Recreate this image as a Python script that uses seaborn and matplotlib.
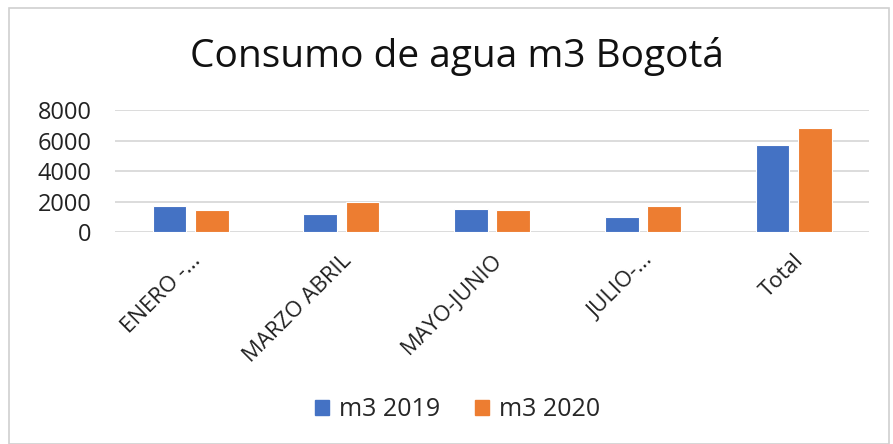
import matplotlib
matplotlib.use("Agg")
import matplotlib.pyplot as plt
import seaborn as sns
import pandas as pd
from matplotlib.patches import Rectangle

categories = ["ENERO -...", "MARZO ABRIL", "MAYO-JUNIO", "JULIO-...", "Total"]
m3_2019 = [1690, 1165, 1540, 990, 5700]
m3_2020 = [1430, 1950, 1430, 1690, 6840]
series_names = ["m3 2019", "m3 2020"]
yticks = [0, 2000, 4000, 6000, 8000]

df = pd.DataFrame({
    "cat": categories * 2,
    "val": m3_2019 + m3_2020,
    "serie": [series_names[0]] * len(categories) + [series_names[1]] * len(categories),
})

sns.set_style("white")
plt.rcParams["font.family"] = ["Open Sans", "DejaVu Sans"]

fig = plt.figure(figsize=(8.93, 4.44), dpi=100)
ax = fig.add_axes([0.129, 0.4775, 0.844, 0.2745])
palette = ["#4472C4", "#ED7D31"]
sns.barplot(data=df, x="cat", y="val", hue="serie", palette=palette, ax=ax,
            width=0.56, gap=0.2, saturation=1, edgecolor="white", linewidth=0.8,
            legend=False)

ax.set_ylim(0, 8000)
ax.set_yticks(yticks)
ax.set_yticklabels([str(v) for v in yticks], fontsize=17, color="#222222")
ax.yaxis.grid(True, color="#D9D9D9", linewidth=1.3)
ax.set_axisbelow(True)
for s in ax.spines.values():
    s.set_visible(False)
ax.tick_params(axis="both", length=0)
ax.tick_params(axis="y", pad=17)
ax.set_xlabel("")
ax.set_ylabel("")
ax.set_xticks(range(len(categories)))
ax.set_xticklabels(categories, rotation=45, ha="right", rotation_mode="anchor",
                   fontsize=16, color="#222222")
ax.tick_params(axis="x", pad=13)

fig.text(0.512, 0.872, "Consumo de agua m3 Bogotá", ha="center", va="center",
         fontsize=28, color="#111111")

handles = [Rectangle((0, 0), 1, 1, color=c) for c in palette]
fig.legend(handles, series_names, loc="center", bbox_to_anchor=(0.512, 0.077),
           ncol=2, frameon=False, fontsize=18, handlelength=0.55, handleheight=0.55,
           columnspacing=1.4, handletextpad=0.4)

border = Rectangle((0.010, 0.0), 0.985, 0.982, transform=fig.transFigure,
                   fill=False, edgecolor="#D0D0D0", linewidth=1.2)
fig.patches.append(border)

fig.savefig("out.png", dpi=100)
